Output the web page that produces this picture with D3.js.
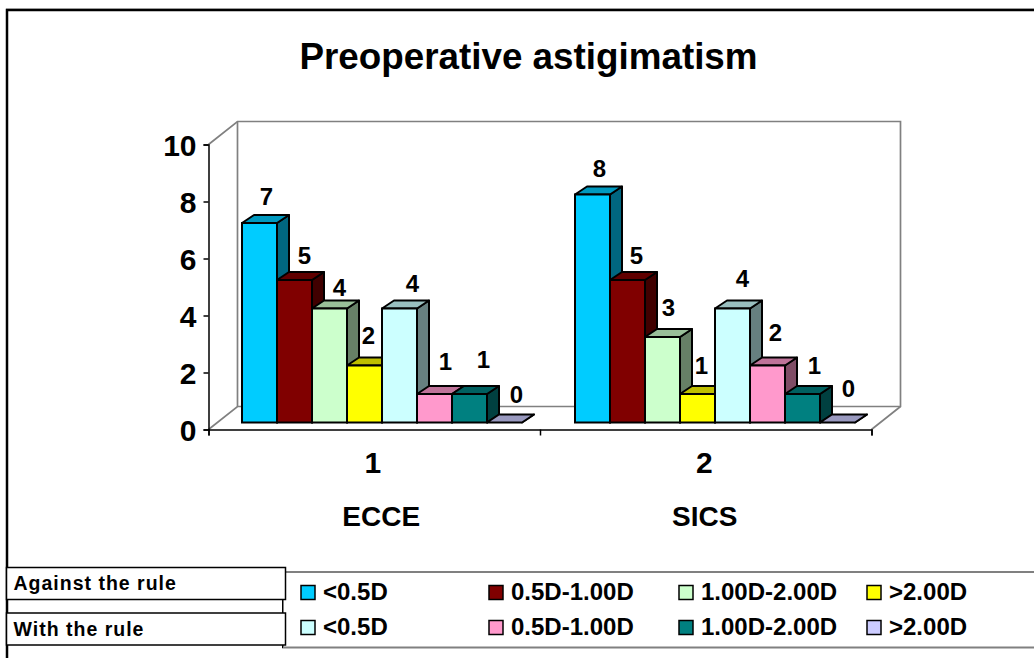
<!DOCTYPE html>
<html>
<head>
<meta charset="utf-8">
<script src="https://cdn.jsdelivr.net/npm/d3@7"></script>
<style>
  html, body { margin: 0; padding: 0; background: #fff; overflow: hidden; }
  text { font-family: "Liberation Sans", Arial, sans-serif; font-weight: bold; fill: #000; }
</style>
</head>
<body>
<script>
const groups = ['1', '2'];
const groupNames = ['ECCE', 'SICS'];
const seriesNames = ['<0.5D', '0.5D-1.00D', '1.00D-2.00D', '>2.00D', '<0.5D', '0.5D-1.00D', '1.00D-2.00D', '>2.00D'];
const seriesColors = ['#00ccff', '#800000', '#ccffcc', '#ffff00', '#ccffff', '#ff99cc', '#008080', '#ccccff'];
const ecceValues = [7, 5, 4, 2, 4, 1, 1, 0];
const sicsValues = [8, 5, 3, 1, 4, 2, 1, 0];
const yTicks = [0, 2, 4, 6, 8, 10];
const rowLabels = ['Against the rule', 'With the rule'];

// Data labels were placed by hand in the original, nudges are [dx, dy] from the bar top
const ecceNudge = [[7, -18], [10, -16], [10, -13], [4, -22], [13, -17], [11, -24], [14, -26], [12, -20]];
const sicsNudge = [[7, -18], [9, -16], [6, -21], [4, -20], [10, -22], [8, -25], [12, -20], [11, -26]];

const W = 1034, H = 658;
const depthX = 12, depthY = 8;   // bar depth
const wallX = 29, wallY = 23;    // chart box depth

const svg = d3.select('body').append('svg')
  .attr('width', W).attr('height', H)
  .style('display', 'block');

// Outer frame, only top and left are visible
svg.append('line')
  .attr('x1', 6).attr('x2', W).attr('y1', 8.5).attr('y2', 8.5)
  .attr('stroke', '#d0d0d0').attr('stroke-width', 1);
svg.append('path')
  .attr('d', `M7,${H} V10 H${W}`)
  .attr('fill', 'none').attr('stroke', '#000').attr('stroke-width', 2.5);

svg.append('text')
  .attr('x', 528.5).attr('y', 69)
  .attr('text-anchor', 'middle')
  .attr('font-size', '36.8px')
  .text('Preoperative astigimatism');

const x = d3.scaleBand().domain(groups).range([208.5, 871.5]);
const y = d3.scaleLinear().domain([0, 10]).range([429.5, 144.5]);
const barY = d3.scaleLinear().domain([0, 10]).range([422.5, 137.5]);

// Back wall and floor
const x0 = x.range()[0], x1 = x.range()[1];
const wall = svg.append('g').attr('fill', 'none').attr('stroke', '#808080').attr('stroke-width', 1.7);
wall.append('path')
  .attr('d', `M${x0},${y(10)} L${x0 + wallX},${y(10) - wallY} H${x1 + wallX} V${y(0) - wallY} L${x1},${y(0)}`);
wall.append('path')
  .attr('d', `M${x0},${y(0)} L${x0 + wallX},${y(0) - wallY} H${x1 + wallX}`);
wall.append('line')
  .attr('x1', x0 + wallX).attr('x2', x0 + wallX)
  .attr('y1', y(10) - wallY).attr('y2', y(0) - wallY);

// Axes
const yAxis = svg.append('g').attr('transform', `translate(${x0},0)`)
  .call(d3.axisLeft(y).tickValues(yTicks).tickSize(5).tickPadding(7));
yAxis.select('.domain').attr('stroke', '#000').attr('stroke-width', 1.5);
yAxis.selectAll('line').attr('stroke', '#000').attr('stroke-width', 1.5);
yAxis.selectAll('text').attr('font-size', '30px').attr('font-family', '"Liberation Sans"')
  .attr('fill', '#000').attr('dy', '0.36em');

const xEdges = d3.scalePoint().domain(['a', 'b', 'c']).range([x0, x1]);
const xAxis = svg.append('g').attr('transform', `translate(0,${y(0)})`)
  .call(d3.axisBottom(xEdges).tickSize(6).tickFormat(''));
xAxis.select('.domain').attr('stroke', '#000').attr('stroke-width', 1.5);
xAxis.selectAll('line').attr('stroke', '#000').attr('stroke-width', 1.5);

svg.selectAll('text.group').data(groups).join('text')
  .attr('class', 'group')
  .attr('x', d => x(d) + x.bandwidth() / 2 - 1.5)
  .attr('y', 473).attr('text-anchor', 'middle')
  .attr('font-size', '30px')
  .text(d => d);

const nameShift = [7, -1];
svg.selectAll('text.groupName').data(groupNames).join('text')
  .attr('class', 'groupName')
  .attr('x', (d, i) => x(groups[i]) + x.bandwidth() / 2 + nameShift[i])
  .attr('y', 526).attr('text-anchor', 'middle')
  .attr('font-size', '28px')
  .text(d => d);

// Bars
const barGroup = d3.scaleBand().domain(groups).range([209, 875]);
const inner = d3.scaleBand().domain(d3.range(8)).range([33, 313]);

function shade(c, k) {
  const r = d3.rgb(c);
  return d3.rgb(r.r * k, r.g * k, r.b * k).formatHex();
}

function drawBars(values, nudge, groupKey) {
  const g = svg.append('g').attr('transform', `translate(${barGroup(groupKey)},0)`);
  const bars = values.map((v, i) => ({ v, i }));
  const w = inner.bandwidth();

  const bar = g.selectAll('g.bar').data(bars).join('g').attr('class', 'bar');

  bar.append('path') // side
    .attr('d', d => `M${inner(d.i) + w},${barY(d.v)} l${depthX},${-depthY} V${barY(0) - depthY} l${-depthX},${depthY} Z`)
    .attr('fill', d => shade(seriesColors[d.i], 0.5))
    .attr('stroke', '#000').attr('stroke-width', 2).attr('stroke-linejoin', 'round');

  bar.append('path') // top
    .attr('d', d => `M${inner(d.i)},${barY(d.v)} l${depthX},${-depthY} h${w} l${-depthX},${depthY} Z`)
    .attr('fill', d => shade(seriesColors[d.i], 0.75))
    .attr('stroke', '#000').attr('stroke-width', 2).attr('stroke-linejoin', 'round');

  bar.append('rect') // front
    .attr('x', d => inner(d.i)).attr('y', d => barY(d.v))
    .attr('width', w).attr('height', d => barY(0) - barY(d.v))
    .attr('fill', d => seriesColors[d.i])
    .attr('stroke', '#000').attr('stroke-width', 2);

  g.selectAll('text.val').data(bars).join('text')
    .attr('class', 'val')
    .attr('x', d => inner(d.i) + w / 2 + nudge[d.i][0])
    .attr('y', d => barY(d.v) + nudge[d.i][1])
    .attr('text-anchor', 'middle')
    .attr('font-size', '24px')
    .text(d => d.v);
}

drawBars(ecceValues, ecceNudge, groups[0]);
drawBars(sicsValues, sicsNudge, groups[1]);

// Legend
const legendRows = d3.scaleBand().domain([0, 1]).range([581, 651]);
const legendCols = d3.scaleOrdinal().domain([0, 1, 2, 3]).range([301, 489, 679, 867]);

svg.append('path')
  .attr('d', `M${W},572 H283 V647.5 H${W}`)
  .attr('fill', '#fff').attr('stroke', '#808080').attr('stroke-width', 2);
svg.append('line').attr('x1', 282.5).attr('x2', 282.5).attr('y1', 572).attr('y2', 648)
  .attr('stroke', '#000');

const items = seriesNames.map((name, i) => ({ name, i, row: Math.floor(i / 4), col: i % 4 }));
const item = svg.selectAll('g.item').data(items).join('g')
  .attr('class', 'item')
  .attr('transform', d => `translate(${legendCols(d.col)},${legendRows(d.row) + 12})`);
item.append('rect')
  .attr('y', -7.5).attr('width', 14).attr('height', 14)
  .attr('fill', d => seriesColors[d.i])
  .attr('stroke', '#000').attr('stroke-width', 1.5);
item.append('text')
  .attr('x', 22).attr('y', 7)
  .attr('font-size', '24px')
  .text(d => d.name);

// Row label boxes
const label = svg.selectAll('g.rowLabel').data(rowLabels).join('g').attr('class', 'rowLabel')
  .attr('transform', (d, i) => `translate(6.5,${i ? 613 : 567.5})`);
label.append('rect')
  .attr('width', 279).attr('height', 32)
  .attr('fill', '#fff').attr('stroke', '#000').attr('stroke-width', 1.5);
label.append('text')
  .attr('x', 7).attr('y', 22.5)
  .attr('font-size', '19.5px')
  .attr('letter-spacing', '1px')
  .text(d => d);
</script>
</body>
</html>
